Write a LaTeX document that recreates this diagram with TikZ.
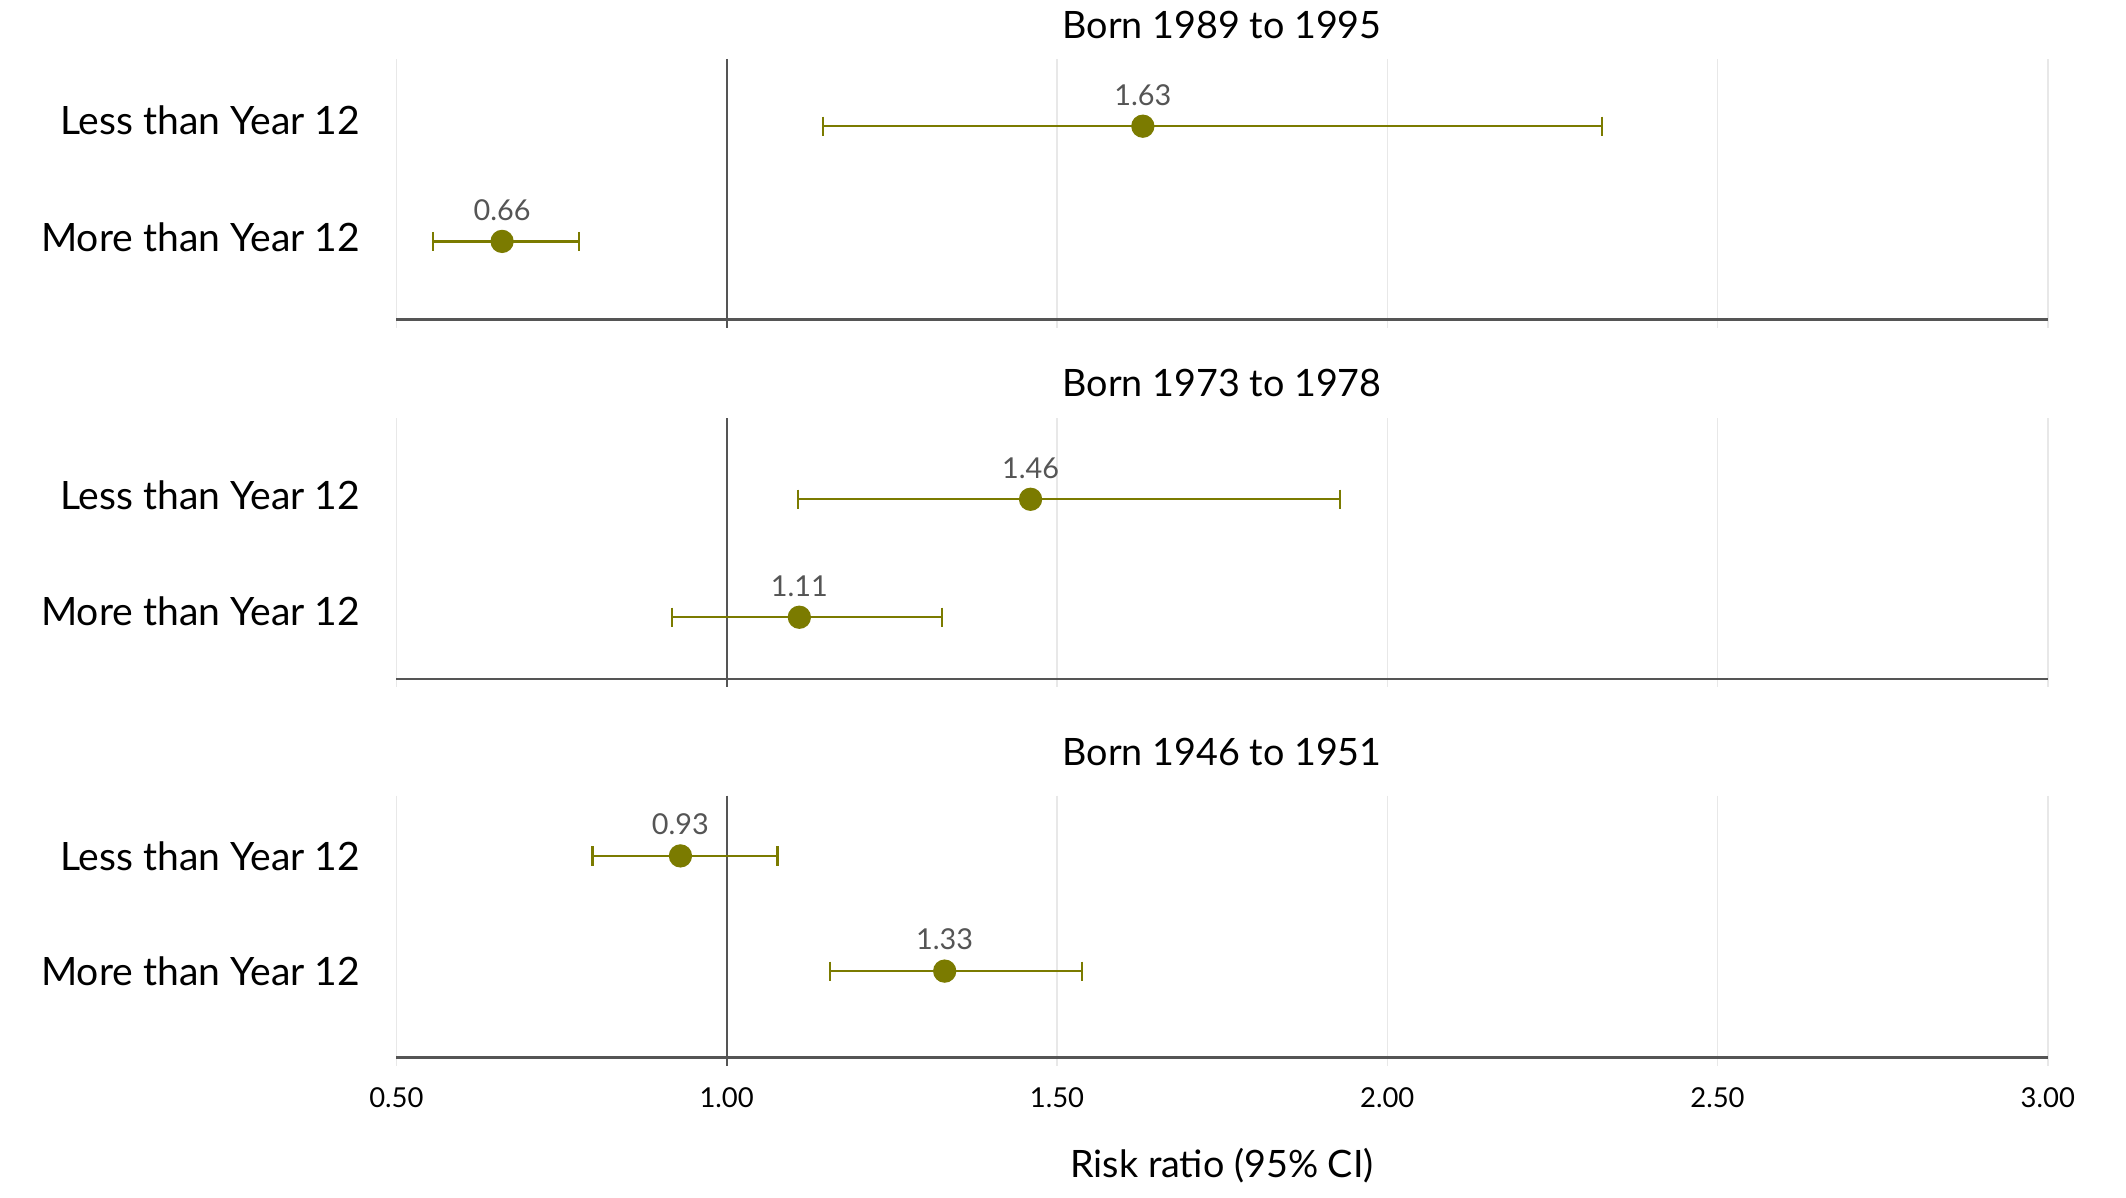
\documentclass[tikz,border=0pt]{standalone}
\usepackage{fontspec}
\setmainfont{Lato}
\definecolor{ol}{HTML}{7B7B00}
\definecolor{axc}{HTML}{555555}
\definecolor{grd}{HTML}{E8E8E8}
\begin{document}
\begin{tikzpicture}[x=1pt,y=-1pt,
  ci/.style={ol,line width=1.6pt},
  pt/.style={circle,fill=ol,inner sep=0pt,minimum size=17pt},
  val/.style={font=\fontsize{21}{24}\selectfont,text=axc},
  row/.style={font=\fontsize{28.5}{30}\selectfont,anchor=east},
  ttl/.style={font=\fontsize{27.5}{30}\selectfont}]
\useasboundingbox (0,0) rectangle (1550,873);
\def\X#1{289+(#1-0.5)*481.6}
\foreach \t/\b/\ty/\ra/\rb/\name in {43/233/18/88/173/Born 1989 to 1995, 305/495/279/361/446/Born 1973 to 1978, 580/771/548/624/708/Born 1946 to 1951}{
  \foreach \v in {0.5,1.5,2.0,2.5,3.0} \draw[grd,line width=1pt] ({\X{\v}},\t) -- ({\X{\v}},\b+6);
  \draw[axc,line width=1.6pt] ({\X{1}},\t) -- ({\X{1}},\b+6);
  \draw[axc,line width=1.6pt] (289,\b) -- (1493,\b);
  \node[ttl] at (891,\ty) {\name};
  \node[row] at (266,\ra) {Less than Year 12};
  \node[row] at (266,\rb) {More than Year 12};
}
\foreach \y/\e/\l/\h [count=\i] in {92/1.63/1.146/2.325, 176/0.66/0.556/0.776, 364/1.46/1.108/1.929, 450/1.11/0.917/1.326, 624/0.93/0.797/1.077, 708/1.33/1.156/1.538}{
  \draw[ci] ({\X{\l}},\y) -- ({\X{\h}},\y);
  \draw[ci] ({\X{\l}},\y-7) -- ({\X{\l}},\y+7);
  \draw[ci] ({\X{\h}},\y-7) -- ({\X{\h}},\y+7);
  \node[pt] (p\i) at ({\X{\e}},\y) {};
  \node[val,above=3pt] at (p\i.north) {\e};
}
\foreach \v in {0.50,1.00,1.50,2.00,2.50,3.00}
  \node[font=\fontsize{20}{24}\selectfont] at ({\X{\v}},800) {\v};
\node[ttl] at (891,850) {Risk ratio (95\% CI)};
\end{tikzpicture}
\end{document}
